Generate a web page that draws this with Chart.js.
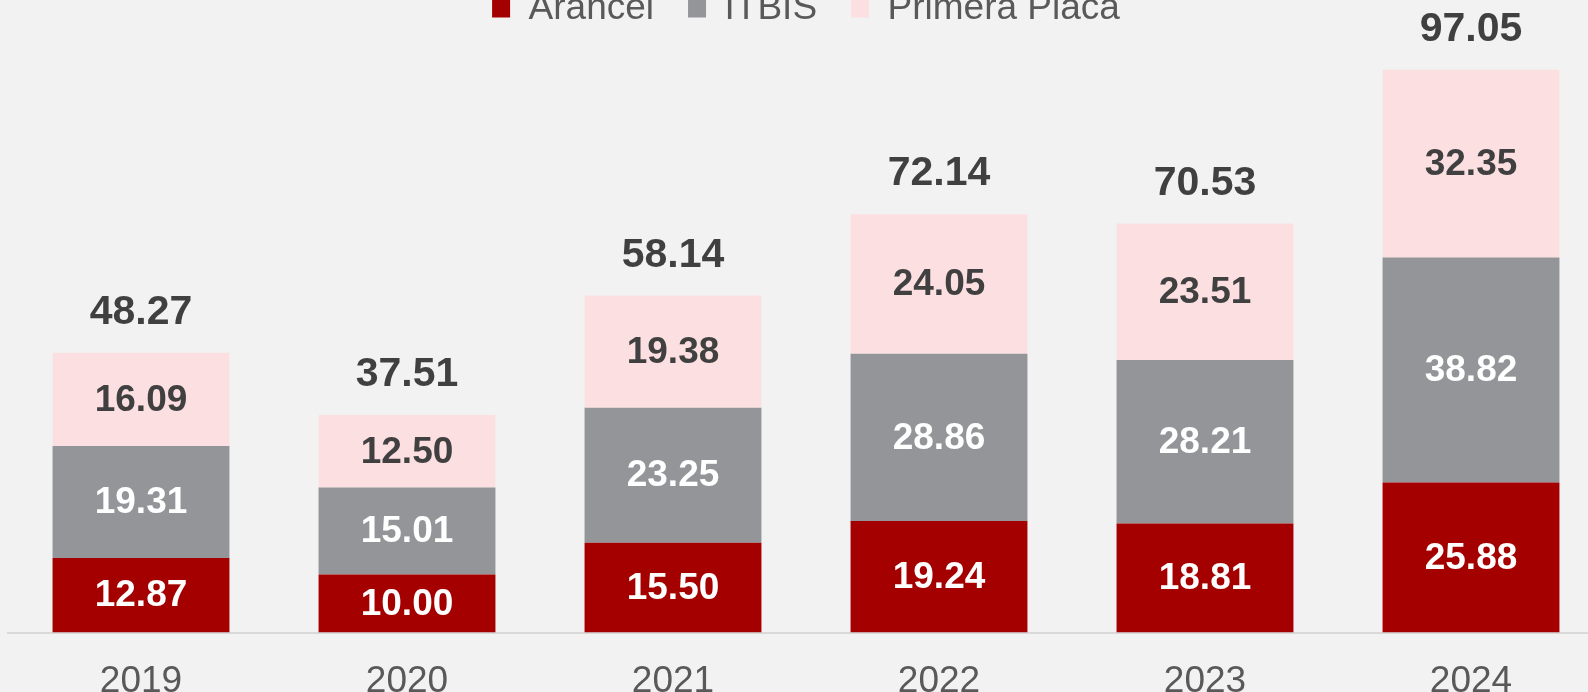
<!DOCTYPE html>
<html>
<head>
<meta charset="utf-8">
<script src="https://cdn.jsdelivr.net/npm/chart.js@4/dist/chart.umd.min.js"></script>
<style>
	html, body { margin: 0; padding: 0; background: #f2f2f2; }
	#frame { position: relative; width: 1588px; height: 692px; overflow: hidden; background: #f2f2f2; }
	#holder { position: absolute; left: 0; top: -44px; }
</style>
</head>
<body>
<div id="frame"><div id="holder"><canvas id="canvas" width="1604" height="775"></canvas></div></div>
<script>
	var years = ['2019', '2020', '2021', '2022', '2023', '2024'];
	var arancel = [12.87, 10.00, 15.50, 19.24, 18.81, 25.88];
	var itbis = [19.31, 15.01, 23.25, 28.86, 28.21, 38.82];
	var primeraPlaca = [16.09, 12.50, 19.38, 24.05, 23.51, 32.35];
	var totals = [48.27, 37.51, 58.14, 72.14, 70.53, 97.05];

	var FONT = "'Liberation Sans', Arial, sans-serif";

	// value labels inside the segments and totals on top
	var barLabels = {
		id: 'barLabels',
		afterDatasetsDraw: function(chart) {
			var ctx = chart.ctx;
			ctx.save();
			ctx.textAlign = 'center';
			ctx.textBaseline = 'middle';
			chart.data.datasets.forEach(function(ds, i) {
				var meta = chart.getDatasetMeta(i);
				ctx.fillStyle = ds.labelColor;
				ctx.font = 'bold 37px ' + FONT;
				meta.data.forEach(function(bar, j) {
					var mid = (bar.y + bar.base) / 2;
					ctx.fillText(ds.data[j].toFixed(2), bar.x, mid + 1);
				});
			});
			var top = chart.getDatasetMeta(chart.data.datasets.length - 1);
			ctx.fillStyle = '#404040';
			ctx.font = 'bold 41px ' + FONT;
			top.data.forEach(function(bar, j) {
				ctx.fillText(totals[j].toFixed(2), bar.x, bar.y - 40);
			});
			ctx.restore();
		}
	};

	window.onload = function() {
		var ctx = document.getElementById('canvas').getContext('2d');
		window.myBar = new Chart(ctx, {
			type: 'bar',
			data: {
				labels: years,
				datasets: [{
					label: 'Arancel',
					data: arancel,
					backgroundColor: '#a50000',
					labelColor: '#ffffff'
				}, {
					label: 'ITBIS',
					data: itbis,
					backgroundColor: '#939598',
					labelColor: '#ffffff'
				}, {
					label: 'Primera Placa',
					data: primeraPlaca,
					backgroundColor: '#fcdfe1',
					labelColor: '#404040'
				}]
			},
			options: {
				responsive: false,
				animation: false,
				layout: { padding: { left: 8, right: 0, top: 0, bottom: 0 } },
				datasets: {
					bar: { categoryPercentage: 1, barPercentage: 0.665, borderWidth: 0 }
				},
				plugins: {
					legend: {
						position: 'top',
						labels: {
							color: '#595959',
							font: { family: FONT, size: 37 },
							boxWidth: 18,
							boxHeight: 18,
							padding: 34
						}
					},
					tooltip: { enabled: false }
				},
				scales: {
					x: {
						stacked: true,
						grid: { display: false, drawTicks: false },
						border: { display: true, color: '#d9d9d9', width: 2 },
						ticks: { color: '#595959', font: { family: FONT, size: 37 }, padding: 27 }
					},
					y: {
						stacked: true,
						display: false,
						min: 0,
						max: 102.7
					}
				}
			},
			plugins: [barLabels]
		});
	};
</script>
</body>
</html>
